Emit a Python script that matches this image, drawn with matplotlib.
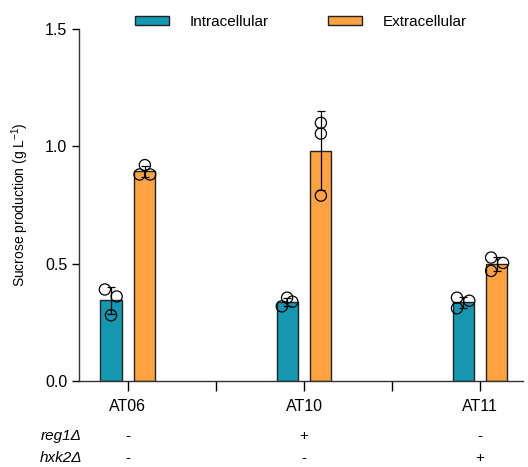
import numpy as np
import matplotlib
matplotlib.use("Agg")
import matplotlib.pyplot as plt

plt.rcParams['font.family'] = ['Liberation Sans', 'DejaVu Sans']

# data
strains = ["AT06", "AT10", "AT11"]
reg1 = ["-", "+", "-"]
hxk2 = ["-", "-", "+"]

intra_pts = [[0.39, 0.28, 0.36], [0.318, 0.355, 0.338], [0.355, 0.31, 0.342]]
extra_pts = [[0.88, 0.92, 0.88], [1.10, 1.054, 0.79], [0.526, 0.469, 0.503]]
intra_jitter = [[-0.035, 0.0, 0.032], [-0.03, 0.0, 0.03], [-0.035, -0.035, 0.035]]
extra_jitter = [[-0.03, 0.0, 0.03], [0.0, 0.0, 0.0], [-0.033, -0.033, 0.035]]

teal = "#1497B0"
orange = "#FCA241"

fig = plt.figure(figsize=(5.28, 4.67), dpi=100)
ax = fig.add_axes([0.1496, 0.1842, 0.8409, 0.7537])

x = np.arange(len(strains))
width = 0.12
off = 0.096

for pts, jit, dx, col, lab in [(intra_pts, intra_jitter, -off, teal, "Intracellular"),
                               (extra_pts, extra_jitter, off, orange, "Extracellular")]:
    arr = np.array(pts)
    means = arr.mean(axis=1)
    sds = arr.std(axis=1, ddof=1)
    ax.bar(x + dx, means, width, color=col, edgecolor="#222222", linewidth=1.0,
           label=lab, zorder=2)
    ax.errorbar(x + dx, means, yerr=sds, fmt="none", ecolor="black", elinewidth=0.9,
                capsize=3.2, capthick=0.9, zorder=3)
    for i in range(len(strains)):
        ax.scatter(x[i] + dx + np.array(jit[i]), arr[i], s=65, facecolors="none",
                   edgecolors="black", linewidths=0.9, zorder=4)

ax.set_xlim(-0.278, 2.244)
ax.set_ylim(0, 1.5)
ax.set_yticks([0.0, 0.5, 1.0, 1.5])
ax.set_yticklabels(["0.0", "0.5", "1.0", "1.5"])
ax.set_xticks([0, 0.5, 1, 1.5, 2])
ax.set_xticklabels(["AT06", "", "AT10", "", "AT11"])
ax.tick_params(axis="x", length=7, width=1, labelsize=11.5, pad=6)
ax.tick_params(axis="y", length=5, width=1, labelsize=11.5)
for s in ["top", "right"]:
    ax.spines[s].set_visible(False)
for s in ["left", "bottom"]:
    ax.spines[s].set_linewidth(1.0)
    ax.spines[s].set_color("#333333")

ax.set_ylabel("Sucrose production (g L$^{\\mathregular{-1}}$)", fontsize=10, labelpad=10)

# genotype table under the axis
trans = ax.get_xaxis_transform()
for i in range(len(strains)):
    ax.text(x[i], -0.156, reg1[i], transform=trans, ha="center", va="center", fontsize=11)
    ax.text(x[i], -0.219, hxk2[i], transform=trans, ha="center", va="center", fontsize=11)
ax.text(-0.262, -0.156, "reg1Δ", transform=trans, ha="right", va="center",
        fontsize=11, style="italic")
ax.text(-0.262, -0.219, "hxk2Δ", transform=trans, ha="right", va="center",
        fontsize=11, style="italic")

ax.legend(loc="center", bbox_to_anchor=(0.5, 1.02), ncol=2, frameon=False, fontsize=11,
          handlelength=2.2, handleheight=0.45, columnspacing=3.9, handletextpad=1.35)

fig.savefig("out.png", dpi=100)
